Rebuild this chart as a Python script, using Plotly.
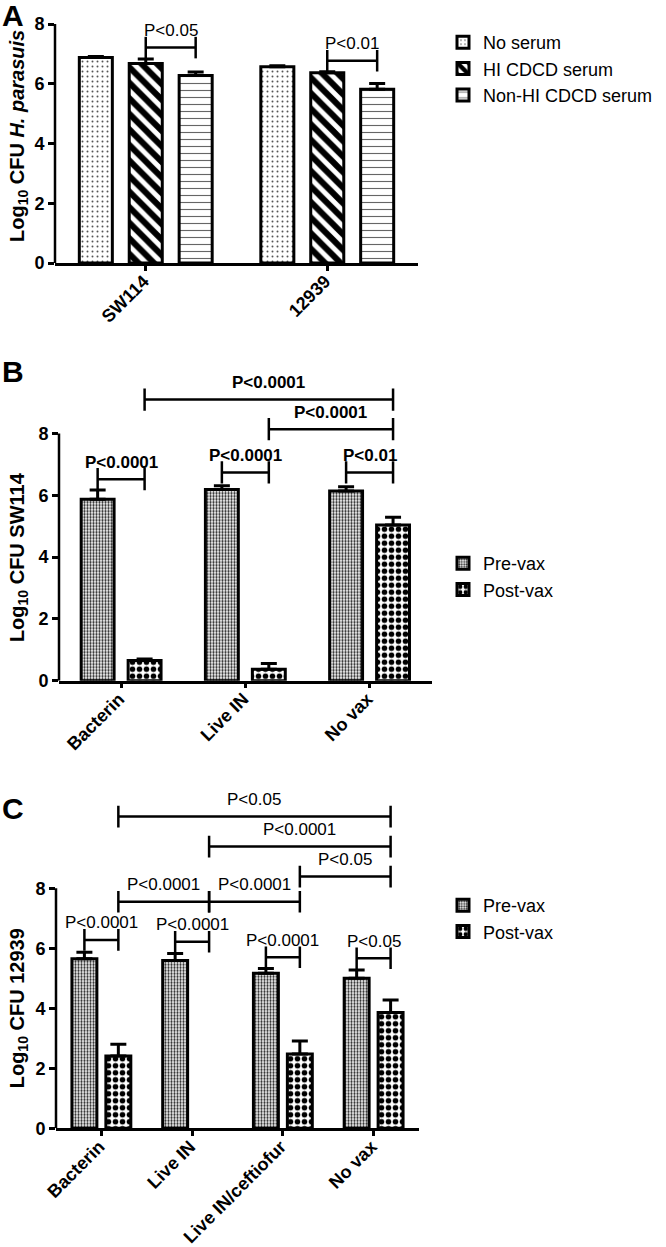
import plotly.graph_objects as go

W, H = 666, 1247
FONT = "Liberation Sans, Arial, Helvetica, sans-serif"

# ---------------- Panel A data ----------------
a_strains = ["SW114", "12939"]
a_series_names = ["No serum", "HI CDCD serum", "Non-HI CDCD serum"]
a_no_serum = [6.88, 6.57]
a_no_serum_err = [0.03, 0.03]
a_hi = [6.68, 6.37]
a_hi_err = [0.15, 0.03]
a_nonhi = [6.28, 5.82]
a_nonhi_err = [0.11, 0.19]
# (group_i, series_i, group_j, series_j, height, label)
a_brackets = [(0, 1, 0, 2, 7.21, "P<0.05"), (1, 1, 1, 2, 6.77, "P<0.01")]

# ---------------- Panel B data ----------------
b_groups = ["Bacterin", "Live IN", "No vax"]
b_series_names = ["Pre-vax", "Post-vax"]
b_pre = [5.87, 6.19, 6.14]
b_pre_err = [0.30, 0.12, 0.14]
b_post = [0.65, 0.37, 5.04]
b_post_err = [0.05, 0.19, 0.25]
b_brackets = [(0, 0, 0, 1, 6.52, "P<0.0001"), (1, 0, 1, 1, 6.74, "P<0.0001"),
              (2, 0, 2, 1, 6.74, "P<0.01"), (1, 1, 2, 1, 8.14, "P<0.0001"),
              (0, 1, 2, 1, 9.10, "P<0.0001")]

# ---------------- Panel C data ----------------
c_groups = ["Bacterin", "Live IN", "Live IN/ceftiofur", "No vax"]
c_series_names = ["Pre-vax", "Post-vax"]
c_pre = [5.65, 5.59, 5.17, 5.00]
c_pre_err = [0.22, 0.24, 0.16, 0.28]
c_post = [2.41, None, 2.48, 3.86]
c_post_err = [0.39, 0, 0.43, 0.42]
c_brackets = [(0, 0, 0, 1, 6.28, "P<0.0001"), (1, 0, 1, 1, 6.22, "P<0.0001"),
              (2, 0, 2, 1, 5.70, "P<0.0001"), (3, 0, 3, 1, 5.67, "P<0.05"),
              (0, 1, 1, 1, 7.55, "P<0.0001"), (1, 1, 2, 1, 7.55, "P<0.0001"),
              (2, 1, 3, 1, 8.39, "P<0.05"), (1, 1, 3, 1, 9.39, "P<0.0001"),
              (0, 1, 3, 1, 10.39, "P<0.05")]

# ---------------- styles ----------------
def pat(shape, size, solidity, fg):
    return dict(shape=shape, size=size, solidity=solidity, fgcolor=fg,
                fgopacity=1, bgcolor="white", fillmode="replace")


pat_no_serum = pat(".", 5, 0.12, "#555")
pat_hi = pat("\\", 11, 0.55, "black")
pat_nonhi = pat("-", 7, 0.16, "#666")
pat_pre = pat(".", 3, 0.45, "#222")
pat_post = pat(".", 7, 0.5, "black")

fig = go.Figure()

panels = [
    dict(xa="x", ya="y", legend="legend", cats=a_strains,
         series=[(a_series_names[0], a_no_serum, a_no_serum_err, pat_no_serum),
                 (a_series_names[1], a_hi, a_hi_err, pat_hi),
                 (a_series_names[2], a_nonhi, a_nonhi_err, pat_nonhi)],
         centers=[-0.275, 0.0, 0.275], width=0.182, brackets=a_brackets, bold=False),
    dict(xa="x2", ya="y2", legend="legend2", cats=b_groups,
         series=[(b_series_names[0], b_pre, b_pre_err, pat_pre),
                 (b_series_names[1], b_post, b_post_err, pat_post)],
         centers=[-0.189, 0.189], width=0.265, brackets=b_brackets, bold=True),
    dict(xa="x3", ya="y3", legend="legend3", cats=c_groups,
         series=[(c_series_names[0], c_pre, c_pre_err, pat_pre),
                 (c_series_names[1], c_post, c_post_err, pat_post)],
         centers=[-0.187, 0.187], width=0.275, brackets=c_brackets, bold=False),
]

shapes = []
annotations = []
LEG = 0.36

for p in panels:
    for k, (name, vals, errs, pt) in enumerate(p["series"]):
        fig.add_trace(go.Bar(
            x=p["cats"], y=vals, name=name, xaxis=p["xa"], yaxis=p["ya"],
            legend=p["legend"],
            width=p["width"], offset=p["centers"][k] - p["width"] / 2,
            marker=dict(color="white", line=dict(color="black", width=3), pattern=pt),
            error_y=dict(type="data", array=errs, arrayminus=[0] * len(errs),
                         symmetric=False, color="black", thickness=3, width=8),
        ))
    # y axis line from 0 to 8
    shapes.append(dict(type="line", xref=p["xa"] + " domain", yref=p["ya"],
                       x0=0, x1=0, y0=0, y1=8, line=dict(color="black", width=2.5)))
    for (gi, si, gj, sj, h, lab) in p["brackets"]:
        x0 = gi + p["centers"][si]
        x1 = gj + p["centers"][sj]
        for xx in (x0, x1):
            shapes.append(dict(type="line", xref=p["xa"], yref=p["ya"], x0=xx, x1=xx,
                               y0=h - LEG, y1=h + LEG, line=dict(color="black", width=2.5)))
        shapes.append(dict(type="line", xref=p["xa"], yref=p["ya"], x0=x0, x1=x1,
                           y0=h, y1=h, line=dict(color="black", width=2.5)))
        annotations.append(dict(xref=p["xa"], yref=p["ya"], x=(x0 + x1) / 2, y=h,
                                yshift=17, text=lab, showarrow=False,
                                font=dict(size=17, family=FONT, color="black",
                                          weight="bold" if p["bold"] else "normal")))

# y-axis titles
ytitles = [("y", 4.25, "Log<sub>10</sub> CFU <i>H. parasuis</i>"),
           ("y2", 4.0, "Log<sub>10</sub> CFU SW114"),
           ("y3", 4.0, "Log<sub>10</sub> CFU 12939")]
for ya, yy, t in ytitles:
    annotations.append(dict(xref="paper", yref=ya, x=18 / W, y=yy, text=t, textangle=-90,
                            showarrow=False, xanchor="center", yanchor="middle",
                            font=dict(size=20, family=FONT, color="black", weight="bold")))

# panel letters
for lab, ypx in (("A", 15), ("B", 372), ("C", 808)):
    annotations.append(dict(xref="paper", yref="paper", x=0, y=1 - ypx / H, text=lab,
                            showarrow=False, xanchor="left", yanchor="middle",
                            font=dict(size=30, family=FONT, color="black", weight="bold")))


def xaxis(dom, anchor, n):
    return dict(domain=dom, anchor=anchor, type="category", range=[-0.5, n - 0.5],
                showline=True, linecolor="black", linewidth=2.5, ticks="outside",
                ticklen=5, tickwidth=2.5, tickcolor="black", tickangle=-45,
                ticklabelshift=-2, ticklabelstandoff=-7,
                tickfont=dict(size=18, family=FONT, color="black", weight="bold"),
                showgrid=False, zeroline=False, fixedrange=True, automargin=False)


def yaxis(dom, anchor, top):
    return dict(domain=dom, anchor=anchor, range=[0, top], tickvals=[0, 2, 4, 6, 8],
                showline=False, ticks="outside", ticklen=6, tickwidth=2.5,
                tickcolor="black", showgrid=False, zeroline=False, automargin=False,
                fixedrange=True,
                tickfont=dict(size=18, family=FONT, color="black", weight="bold"))


legfont = dict(size=18, family=FONT, color="black")
fig.update_layout(
    width=W, height=H, margin=dict(l=0, r=0, t=0, b=0, autoexpand=False),
    paper_bgcolor="white", plot_bgcolor="white", barmode="overlay",
    font=dict(family=FONT, color="black"),
    xaxis=xaxis([55 / W, 418 / W], "y", 2),
    yaxis=yaxis([1 - 263 / H, 1 - 24 / H], "x", 8),
    xaxis2=xaxis([59 / W, 431.7 / W], "y2", 3),
    yaxis2=yaxis([1 - 680.7 / H, 1 - (680.7 - 10 * 30.9) / H], "x2", 10),
    xaxis3=xaxis([56 / W, 419 / W], "y3", 4),
    yaxis3=yaxis([1 - 1128.3 / H, 1 - (1128.3 - 11.3 * 30) / H], "x3", 11.3),
    legend=dict(x=443 / W, y=1 - 24 / H, xanchor="left", yanchor="top", font=legfont,
                bgcolor="rgba(0,0,0,0)", traceorder="normal"),
    legend2=dict(x=443 / W, y=1 - 545 / H, xanchor="left", yanchor="top", font=legfont,
                 bgcolor="rgba(0,0,0,0)", traceorder="normal"),
    legend3=dict(x=443 / W, y=1 - 887 / H, xanchor="left", yanchor="top", font=legfont,
                 bgcolor="rgba(0,0,0,0)", traceorder="normal"),
    shapes=shapes, annotations=annotations, showlegend=True,
)

fig.write_html("out.html", config={"displayModeBar": False},
               post_script="document.body.style.margin='0';document.body.style.padding='0';")
